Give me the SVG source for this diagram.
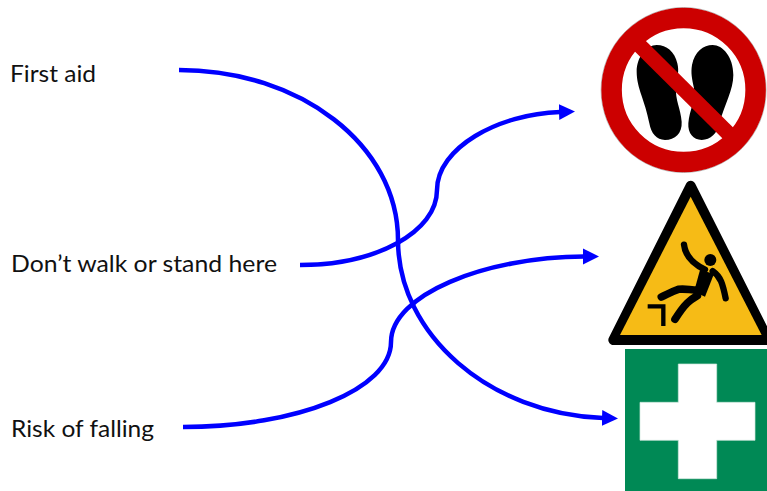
<svg xmlns="http://www.w3.org/2000/svg" width="767" height="491" viewBox="0 0 767 491">
<style>
.lbl{font-family:Lato,"Liberation Sans",sans-serif;font-size:24px;fill:#111}
.conn{fill:none;stroke:#0000ff;stroke-width:4.5;marker-end:url(#ah)}
.fig{fill:none;stroke:#000;stroke-linecap:round;stroke-linejoin:round}
</style>
<defs>
<marker id="ah" markerUnits="userSpaceOnUse" markerWidth="17" markerHeight="18" refX="1" refY="9" orient="auto"><polygon points="0,1 16,9 0,17" fill="#0000ff"/></marker>
</defs>
<rect width="767" height="491" fill="#fff"/>
<g id="label-first-aid"><text class="lbl" x="10" y="82" textLength="86" lengthAdjust="spacingAndGlyphs">First aid</text></g>
<g id="label-dont-walk"><text class="lbl" x="11" y="272" textLength="266" lengthAdjust="spacingAndGlyphs">Don’t walk or stand here</text></g>
<g id="label-risk"><text class="lbl" x="11" y="437" textLength="143" lengthAdjust="spacingAndGlyphs">Risk of falling</text></g>
<g id="sign-no-step">
<circle cx="683.6" cy="90" r="82.5" fill="#fff" stroke="#bbb" stroke-width="1"/>
<circle cx="683.6" cy="90" r="72" fill="#fff" stroke="#cc0000" stroke-width="20.5"/>
<g transform="translate(590 0) scale(.33333)">
<path d="M200 135C170 135 140 170 140 215C140 265 165 300 178 370C183 400 200 420 225 420C255 420 277 400 275 365C272 325 255 300 258 260C262 230 268 215 262 190C254 155 230 135 200 135Z" fill="#000"/>
<path d="M368 135C398 135 430 170 430 225C430 270 405 310 388 370C382 400 362 420 335 420C310 420 293 400 295 370C298 330 318 300 312 265C306 235 302 220 306 195C314 155 340 135 368 135Z" fill="#000"/>
<path d="M125 113L445 430" stroke="#cc0000" stroke-width="46" fill="none"/>
</g>
</g>
<g id="sign-falling">
<g transform="translate(590 175) scale(.33333)">
<path d="M302 32L70 495H535Z" fill="#000" stroke="#000" stroke-width="30" stroke-linejoin="round"/>
<path d="M302 65L90 480H515Z" fill="#f6bb16"/>
<circle cx="361" cy="255" r="18" fill="#000"/>
<path d="M330 285L372 296L345 365L312 350Z" fill="#000"/>
<path class="fig" stroke-width="19" d="M282 209C285 235 300 262 345 284M368 288C392 305 398 325 407 370"/>
<path class="fig" stroke-width="23" d="M325 345C300 345 285 340 265 343C245 350 232 358 214 366M322 362C300 375 285 385 255 433"/>
<path d="M173 394H220V453" fill="none" stroke="#000" stroke-width="13"/>
</g>
</g>
<g id="sign-first-aid">
<rect x="625" y="349" width="142" height="142" fill="#008955"/>
<path d="M678.3 364H716.7V402.3H755V440.3H716.7V478.7H678.3V440.3H640V402.3H678.3Z" fill="#fff" stroke="#cfe8dc" stroke-width=".7"/>
</g>
<g id="connectors">
<path class="conn" d="M179 70C300 70 398 145 398 240C398 335 490 414 603 418"/>
<path class="conn" d="M300 265C376 265 437 232 437 190C437 148 498 114 560 112"/>
<path class="conn" d="M183 427C298 427 391 389 391 342C391 295 484 257 584 256.5"/>
</g>
</svg>
